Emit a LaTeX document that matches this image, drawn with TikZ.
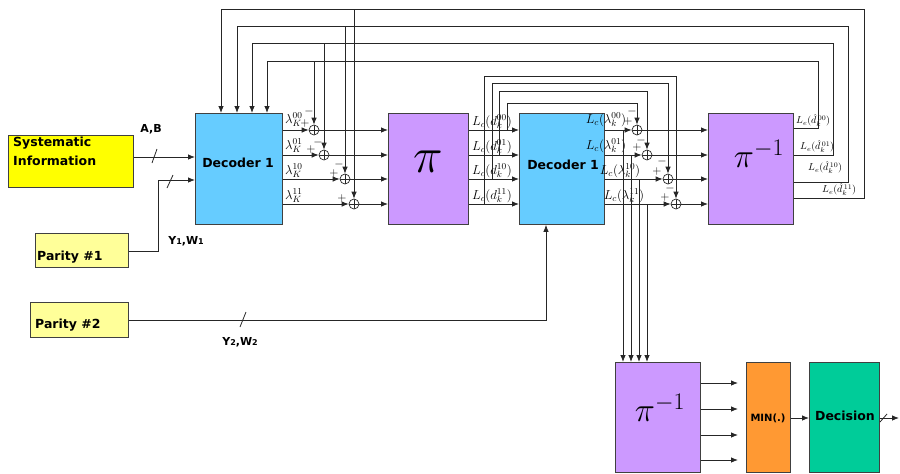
\RequirePackage{fix-cm}
\documentclass[tikz,border=0pt]{standalone}
\usepackage{fontspec}
\setsansfont{DejaVu Sans}
\usetikzlibrary{arrows.meta,calc}
\definecolor{sysY}{HTML}{FFFF00}
\definecolor{parY}{HTML}{FFFF99}
\definecolor{decB}{HTML}{66CCFF}
\definecolor{piP}{HTML}{CC99FF}
\definecolor{minO}{HTML}{FF9933}
\definecolor{decG}{HTML}{00CC99}
\begin{document}
\begin{tikzpicture}[x=1pt,y=-1pt,
  bx/.style={draw=black!75,line width=0.9pt,inner sep=0pt,anchor=north west},
  ln/.style={line width=0.8pt,draw=black!85},
  ar/.style={ln,-{Latex[length=7pt,width=5.5pt]}},
  adder/.style={circle,draw=black!85,line width=0.7pt,minimum size=10pt,inner sep=0pt,
    path picture={\draw[line width=0.6pt] (path picture bounding box.north)--(path picture bounding box.south)
      (path picture bounding box.west)--(path picture bounding box.east);}},
  sf/.style={font=\sffamily\bfseries\fontsize{12.5}{19}\selectfont,inner sep=0pt},
  sm/.style={font=\sffamily\bfseries\fontsize{11}{13}\selectfont,inner sep=0pt},
  sg/.style={font=\fontsize{12}{12}\selectfont,inner sep=0pt},
  lab/.style={font=\fontsize{13}{13}\selectfont,inner sep=0pt},
  lbig/.style={font=\fontsize{13}{13}\selectfont,inner sep=0pt},
  lsm/.style={font=\fontsize{10}{10}\selectfont,inner sep=0pt},
]
\useasboundingbox (0,0) rectangle (900,474);

% ---------- boxes ----------
\node[bx,fill=sysY,minimum width=125pt,minimum height=52pt] (sys) at (8,135) {};
\node[sf,anchor=north west,align=left] (systxt) at (13,137) {Systematic\\Information};
\node[bx,fill=parY,minimum width=93pt,minimum height=34pt] (p1) at (35,233) {};
\node[sf,anchor=west] (p1txt) at (37,257) {Parity \#1};
\node[bx,fill=parY,minimum width=98pt,minimum height=35pt] (p2) at (30,302) {};
\node[sf,anchor=west] (p2txt) at (35,325) {Parity \#2};

\node[bx,fill=decB,minimum width=87pt,minimum height=111pt] (dec1) at (195,113) {};
\node[sf] (dec1t) at (238,163) {Decoder 1};
\node[bx,fill=piP,minimum width=80pt,minimum height=111pt] (pi1) at (388,113) {};
\node[inner sep=0pt,font=\fontsize{50}{50}\selectfont] (pi1t) at (428,162) {$\pi$};
\node[bx,fill=decB,minimum width=85pt,minimum height=111pt] (dec2) at (519,113) {};
\node[sf] (dec2t) at (563,165) {Decoder 1};
\node[bx,fill=piP,minimum width=85pt,minimum height=111pt] (pinv1) at (708,113) {};
\node[inner sep=0pt,font=\fontsize{34}{34}\selectfont] (pinv1t) at (759,154) {$\pi^{-1}$};
\node[bx,fill=piP,minimum width=85pt,minimum height=110pt] (pinv2) at (615,362) {};
\node[inner sep=0pt,font=\fontsize{34}{34}\selectfont] (pinv2t) at (660,408) {$\pi^{-1}$};
\node[bx,fill=minO,minimum width=44pt,minimum height=110pt] (min) at (746,362) {};
\node[sf,font=\sffamily\bfseries\fontsize{10}{12}\selectfont] (mint) at (768,418) {MIN(.)};
\node[bx,fill=decG,minimum width=70pt,minimum height=110pt] (dec) at (809,362) {};
\node[sf] (dect) at (845,416) {Decision};

% ---------- inputs ----------
\draw[ar] (sys.east |- 0,157) -- (dec1.west |- 0,157);
\draw[ln] (152,163) -- (157,149);
\node[sm] (ab) at (151,129) {A,B};
\draw[ar] (p1.east |- 0,251) -| (158,180) -- (dec1.west |- 0,180);
\draw[ln] (167,188) -- (173,175);
\node[sm] (yw1) at (186,241) {Y{\fontsize{8}{8}\selectfont1},W{\fontsize{8}{8}\selectfont1}};
\draw[ar] (p2.east |- 0,320) -| (dec2.south -| 546,0);
\draw[ln] (240,327) -- (246,312);
\node[sm] (yw2) at (240,342) {Y{\fontsize{8}{8}\selectfont2},W{\fontsize{8}{8}\selectfont2}};

% ---------- left adders ----------
\node[adder] (a1) at (314,130) {};
\node[adder] (a2) at (324,155) {};
\node[adder] (a3) at (345,179) {};
\node[adder] (a4) at (354,204) {};
\foreach \a in {a1,a2,a3,a4}{
  \draw[ar] (dec1.east |- \a) -- (\a.west);
  \draw[ar] (\a.east) -- (pi1.west |- \a);
}
\node[lab,anchor=south west] (l1) at (285,127) {$\lambda_K^{00}$};
\node[lab,anchor=south west] (l2) at (285,153) {$\lambda_K^{01}$};
\node[lab,anchor=south west] (l3) at (285,178) {$\lambda_K^{10}$};
\node[lab,anchor=south west] (l4) at (285,203) {$\lambda_K^{11}$};
\node[sg] (sa1p) at (305,123) {$+$};
\node[sg] (sa1m) at (309,111) {$-$};
\node[sg] (sa2p) at (311,149) {$+$};
\node[sg] (sa2m) at (318,142) {$-$};
\node[sg] (sa3p) at (334,173) {$+$};
\node[sg] (sa3m) at (339,164) {$-$};
\node[sg] (sa4p) at (342,198) {$+$};

% ---------- outer feedback loops ----------
\draw[ar] (pinv1.east |- 0,128) -| (818,61) -| (dec1.north -| 267,0);
\draw[ar] (pinv1.east |- 0,155) -| (833,43) -| (dec1.north -| 252,0);
\draw[ar] (pinv1.east |- 0,182) -| (848,26) -| (dec1.north -| 237,0);
\draw[ar] (pinv1.east |- 0,198) -| (864,9) -| (dec1.north -| 221,0);
\draw[ar] (a1 |- 0,61) -- (a1.north);
\draw[ar] (a2 |- 0,43) -- (a2.north);
\draw[ar] (a3 |- 0,26) -- (a3.north);
\draw[ar] (a4 |- 0,9) -- (a4.north);

% ---------- interleaver to decoder 2 ----------
\foreach \a in {a1,a2,a3,a4}{
  \draw[ar] (pi1.east |- \a) -- (dec2.west |- \a);
}
\node[lbig,anchor=south] (c1) at (492,129) {$L_c(d_k^{00})$};
\node[lbig,anchor=south] (c2) at (492,154) {$L_c(d_k^{01})$};
\node[lbig,anchor=south] (c3) at (492,178) {$L_c(d_k^{10})$};
\node[lbig,anchor=south] (c4) at (492,203) {$L_c(d_k^{11})$};

% ---------- right adders ----------
\node[adder] (b1) at (637,130) {};
\node[adder] (b2) at (647,155) {};
\node[adder] (b3) at (668,179) {};
\node[adder] (b4) at (676,204) {};
\foreach \b in {b1,b2,b3,b4}{
  \draw[ar] (dec2.east |- \b) -- (\b.west);
  \draw[ar] (\b.east) -- (pinv1.west |- \b);
}
\draw[ar] (507,130) |- (b1 |- 0,103) -- (b1.north);
\draw[ar] (499,155) |- (b2 |- 0,91) -- (b2.north);
\draw[ar] (492,179) |- (b3 |- 0,83) -- (b3.north);
\draw[ar] (484,204) |- (b4 |- 0,76) -- (b4.north);
\node[lbig,anchor=south] (e1) at (606,127) {$L_c(\lambda_k^{00})$};
\node[lbig,anchor=south] (e2) at (606,153) {$L_c(\lambda_k^{01})$};
\node[lbig,anchor=south] (e3) at (620,178) {$L_c(\lambda_k^{10})$};
\node[lbig,anchor=south] (e4) at (624,203) {$L_c(\lambda_k^{11})$};
\node[sg] (sb1p) at (628,121) {$+$};
\node[sg] (sb1m) at (632,111) {$-$};
\node[sg] (sb2p) at (637,147) {$+$};
\node[sg] (sb2m) at (641,140) {$-$};
\node[sg] (sb3p) at (657,171) {$+$};
\node[sg] (sb3m) at (662,161) {$-$};
\node[sg] (sb4p) at (665,197) {$+$};
\node[sg] (sb4m) at (670,188) {$-$};

% ---------- outputs of deinterleaver ----------
\node[lsm,anchor=south west] (o1) at (796,127) {$L_e(\hat d_k^{\,00})$};
\node[lsm,anchor=south west] (o2) at (800,153) {$L_e(\hat d_k^{\,01})$};
\node[lsm,anchor=south west] (o3) at (808,174) {$L_e(\hat d_k^{\,10})$};
\node[lsm,anchor=south west] (o4) at (822,196) {$L_e(\hat d_k^{\,11})$};

% ---------- taps to bottom deinterleaver ----------
\draw[ar] (623,130) -- (pinv2.north -| 623,0);
\draw[ar] (631,155) -- (pinv2.north -| 631,0);
\draw[ar] (639,179) -- (pinv2.north -| 639,0);
\draw[ar] (647,204) -- (pinv2.north -| 647,0);

% ---------- bottom chain ----------
\coordinate (m1) at (738,383);
\coordinate (m2) at (738,409);
\coordinate (m3) at (738,435);
\coordinate (m4) at (738,460);
\foreach \m in {m1,m2,m3,m4}{
  \draw[ar] (pinv2.east |- \m) -- (\m);
}
\draw[ar] (min.east |- 0,418) -- (dec.west |- 0,418);
\coordinate (outp) at (899,418);
\draw[ar] (dec.east |- outp) -- (outp);
\draw[ln] (880,422) -- (887,414);
\end{tikzpicture}
\end{document}
